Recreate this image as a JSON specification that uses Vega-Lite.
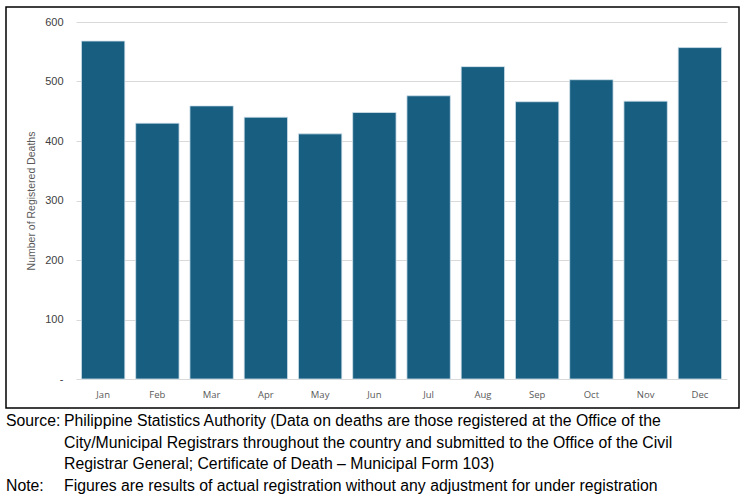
{
  "$schema": "https://vega.github.io/schema/vega-lite/v6.json",
  "width": 733,
  "height": 401,
  "autosize": {"type": "none"},
  "padding": {"left": 6, "top": 7, "right": 8, "bottom": 86},
  "background": "#ffffff",
  "config": {
    "view": {"stroke": "#000000", "strokeWidth": 1.5},
    "font": "Liberation Sans"
  },
  "datasets": {
    "months": [
      {"month": "Jan", "deaths": 568},
      {"month": "Feb", "deaths": 430},
      {"month": "Mar", "deaths": 459},
      {"month": "Apr", "deaths": 440},
      {"month": "May", "deaths": 412},
      {"month": "Jun", "deaths": 448},
      {"month": "Jul", "deaths": 476},
      {"month": "Aug", "deaths": 525},
      {"month": "Sep", "deaths": 466},
      {"month": "Oct", "deaths": 503},
      {"month": "Nov", "deaths": 467},
      {"month": "Dec", "deaths": 557}
    ],
    "notes": [
      {"row": 1, "key": "Source:", "text": "Philippine Statistics Authority (Data on deaths are those registered at the Office of the"},
      {"row": 2, "key": "", "text": "City/Municipal Registrars throughout the country and submitted to the Office of the Civil"},
      {"row": 3, "key": "", "text": "Registrar General; Certificate of Death \u2013 Municipal Form 103)"},
      {"row": 4, "key": "Note:", "text": "Figures are results of actual registration without any adjustment for under registration"}
    ]
  },
  "layer": [
    {
      "data": {"name": "months"},
      "mark": {"type": "bar", "color": "#175E80", "stroke": "#d3e3ec", "strokeWidth": 0.8},
      "encoding": {
        "x": {
          "field": "month",
          "type": "nominal",
          "sort": null,
          "scale": {"range": [70, 721], "paddingInner": 0.2, "paddingOuter": 0.1},
          "axis": {
            "title": null,
            "orient": "bottom",
            "offset": -29,
            "domain": false,
            "ticks": false,
            "labelPadding": 10,
            "labelFont": "Open Sans",
            "labelFontSize": 9.5,
            "labelColor": "#595959",
            "labelAngle": 0
          }
        },
        "y": {
          "field": "deaths",
          "type": "quantitative",
          "scale": {"domain": [0, 600], "range": [372, 15], "nice": false, "zero": true},
          "axis": {
            "title": "Number of Registered Deaths",
            "offset": -70,
            "values": [0, 100, 200, 300, 400, 500, 600],
            "labelExpr": "datum.value == 0 ? '-' : datum.label",
            "domain": false,
            "ticks": false,
            "grid": true,
            "gridColor": "#d9d9d9",
            "gridWidth": 1,
            "labelPadding": 13,
            "labelFont": "Liberation Sans",
            "labelFontSize": 11,
            "labelColor": "#404040",
            "titleFont": "Liberation Sans",
            "titleFontSize": 10.5,
            "titleFontWeight": "normal",
            "titleColor": "#595959",
            "titlePadding": 8
          }
        }
      }
    },
    {
      "data": {"name": "notes"},
      "mark": {"type": "text", "align": "left", "baseline": "alphabetic", "font": "Liberation Sans", "fontSize": 15.8, "color": "#000000"},
      "encoding": {
        "x": {"value": 0},
        "y": {"field": "row", "type": "ordinal", "scale": {"range": [419, 483.5], "padding": 0}, "axis": null},
        "text": {"field": "key"}
      }
    },
    {
      "data": {"name": "notes"},
      "mark": {"type": "text", "align": "left", "baseline": "alphabetic", "font": "Liberation Sans", "fontSize": 15.8, "color": "#000000"},
      "encoding": {
        "x": {"value": 58},
        "y": {"field": "row", "type": "ordinal", "scale": {"range": [419, 483.5], "padding": 0}, "axis": null},
        "text": {"field": "text"}
      }
    }
  ],
  "resolve": {"scale": {"y": "independent"}}
}
